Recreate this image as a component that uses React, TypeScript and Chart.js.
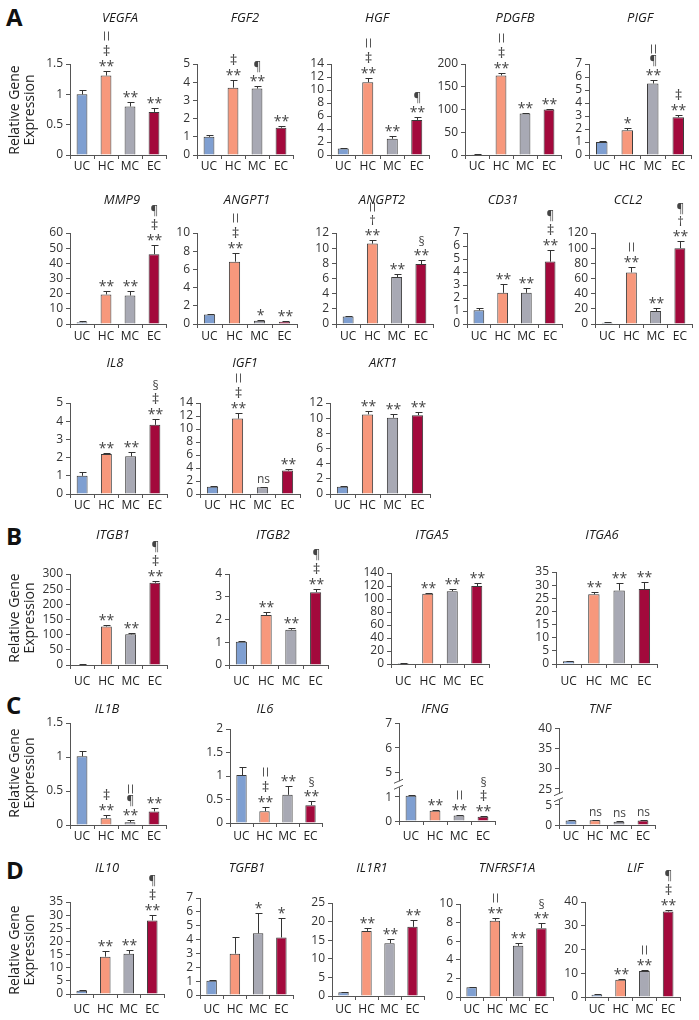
import React, { useEffect, useRef, useState } from "react";
import { Chart, registerables } from "chart.js";
Chart.register(...registerables);

const FONT = "'Open Sans', 'DejaVu Sans', sans-serif";
const groups = ["UC", "HC", "MC", "EC"];
const barColors = ["#7f9fd1", "#f7987c", "#a8a9b4", "#a3093c"];

// ---- data (mean, error, significance marks top-to-bottom) ----
const vegfaMean = [1.0, 1.31, 0.8, 0.71];
const vegfaErr = [0.07, 0.07, 0.07, 0.07];
const vegfaMarks = [[], ["||", "‡", "**"], ["**"], ["**"]];

const fgf2Mean = [1.0, 3.7, 3.65, 1.5];
const fgf2Err = [0.08, 0.4, 0.15, 0.12];
const fgf2Marks = [[], ["‡", "**"], ["¶", "**"], ["**"]];

const hgfMean = [1.0, 11.2, 2.5, 5.4];
const hgfErr = [0.1, 0.7, 0.4, 0.4];
const hgfMarks = [[], ["||", "‡", "**"], ["**"], ["¶", "**"]];

const pdgfbMean = [1.5, 175, 91, 100];
const pdgfbErr = [0.8, 5, 2, 2];
const pdgfbMarks = [[], ["||", "‡", "**"], ["**"], ["**"]];

const pigfMean = [1.0, 1.9, 5.5, 2.9];
const pigfErr = [0.05, 0.15, 0.25, 0.2];
const pigfMarks = [[], ["*"], ["||", "¶", "**"], ["‡", "**"]];

const mmp9Mean = [1.2, 19.5, 18.8, 46];
const mmp9Err = [0.5, 2.5, 3, 6];
const mmp9Marks = [[], ["**"], ["**"], ["¶", "‡", "**"]];

const angpt1Mean = [1.05, 6.85, 0.35, 0.25];
const angpt1Err = [0.05, 0.95, 0.05, 0.05];
const angpt1Marks = [[], ["||", "‡", "**"], ["*"], ["**"]];

const angpt2Mean = [1.0, 10.6, 6.2, 7.9];
const angpt2Err = [0.05, 0.5, 0.35, 0.6];
const angpt2Marks = [[], ["||", "†", "**"], ["**"], ["§", "**"]];

const cd31Mean = [1.05, 2.4, 2.4, 4.8];
const cd31Err = [0.2, 0.65, 0.35, 0.9];
const cd31Marks = [[], ["**"], ["**"], ["¶", "‡", "**"]];

const ccl2Mean = [1.5, 68, 17, 100];
const ccl2Err = [0.5, 7, 4, 10];
const ccl2Marks = [[], ["||", "**"], ["**"], ["¶", "†", "**"]];

const il8Mean = [1.0, 2.2, 2.07, 3.8];
const il8Err = [0.22, 0.04, 0.22, 0.3];
const il8Marks = [[], ["**"], ["**"], ["§", "‡", "**"]];

const igf1Mean = [1.1, 11.6, 1.05, 3.6];
const igf1Err = [0.15, 0.8, 0.1, 0.25];
const igf1Marks = [[], ["||", "‡", "**"], ["ns"], ["**"]];

const akt1Mean = [0.95, 10.5, 10.05, 10.4];
const akt1Err = [0.05, 0.5, 0.5, 0.4];
const akt1Marks = [[], ["**"], ["**"], ["**"]];

const itgb1Mean = [2, 127, 101, 271];
const itgb1Err = [1, 6, 6, 7];
const itgb1Marks = [[], ["**"], ["**"], ["¶", "‡", "**"]];

const itgb2Mean = [1.02, 2.2, 1.55, 3.2];
const itgb2Err = [0.03, 0.15, 0.07, 0.13];
const itgb2Marks = [[], ["**"], ["**"], ["¶", "‡", "**"]];

const itga5Mean = [1.5, 108, 112, 120];
const itga5Err = [0.5, 1.5, 3.5, 4];
const itga5Marks = [[], ["**"], ["**"], ["**"]];

const itga6Mean = [1, 26.5, 28, 28.5];
const itga6Err = [0.3, 1, 2.7, 2.7];
const itga6Marks = [[], ["**"], ["**"], ["**"]];

const il1bMean = [1.01, 0.1, 0.04, 0.2];
const il1bErr = [0.08, 0.04, 0.04, 0.05];
const il1bMarks = [[], ["‡", "**"], ["||", "¶", "**"], ["**"]];

const il6Mean = [1.02, 0.25, 0.6, 0.38];
const il6Err = [0.17, 0.08, 0.18, 0.09];
const il6Marks = [[], ["||", "‡", "**"], ["**"], ["§", "**"]];

// broken axis: positions on the drawn scale and the labels they carry
const ifngMean = [1.03, 0.42, 0.22, 0.17];
const ifngErr = [0.03, 0.03, 0.02, 0.03];
const ifngMarks = [[], ["**"], ["||", "**"], ["§", "‡", "**"]];
const ifngTickPos = [0, 1, 2, 3, 4];
const ifngTickLabels = ["0", "1", "5", "6", "7"];

const tnfMean = [1.1, 1.2, 0.8, 1.1];
const tnfErr = [0.1, 0.1, 0.1, 0.2];
const tnfMarks = [[], ["ns"], ["ns"], ["ns"]];
const tnfTickPos = [0, 5, 9, 14, 19, 24];
const tnfTickLabels = ["0", "5", "25", "30", "35", "40"];

const il10Mean = [1.2, 14.2, 15.3, 28];
const il10Err = [0.3, 2, 1.5, 2];
const il10Marks = [[], ["**"], ["**"], ["¶", "‡", "**"]];

const tgfb1Mean = [1.02, 2.98, 4.45, 4.15];
const tgfb1Err = [0.08, 1.2, 1.45, 1.4];
const tgfb1Marks = [[], [], ["*"], ["*"]];

const il1r1Mean = [1, 17.5, 14.2, 18.6];
const il1r1Err = [0.2, 0.7, 1.2, 1.8];
const il1r1Marks = [[], ["**"], ["**"], ["**"]];

const tnfrsf1aMean = [1.05, 8.2, 5.5, 7.4];
const tnfrsf1aErr = [0.05, 0.3, 0.3, 0.55];
const tnfrsf1aMarks = [[], ["||", "**"], ["**"], ["§", "**"]];

const lifMean = [1, 7.3, 11, 36];
const lifErr = [0.2, 0.3, 0.5, 0.8];
const lifMarks = [[], ["**"], ["||", "**"], ["¶", "‡", "**"]];

// ---- layout of panels ----
type P = {
  title: string; mean: number[]; err: number[]; marks: string[][];
  max: number; step: number; x0: number; x1: number; yT: number; y0: number; ty: number; tx: number; ly: number;
  tickPos?: number[]; tickLabels?: string[]; breakAt?: number;
};

const panels: P[] = [
  { title: "VEGFA", mean: vegfaMean, err: vegfaErr, marks: vegfaMarks, max: 1.5, step: 0.5, x0: 70, x1: 166, yT: 64, y0: 155, ty: 18, tx: 120, ly: 166 },
  { title: "FGF2", mean: fgf2Mean, err: fgf2Err, marks: fgf2Marks, max: 5, step: 1, x0: 197, x1: 293, yT: 64, y0: 155, ty: 18, tx: 245, ly: 166 },
  { title: "HGF", mean: hgfMean, err: hgfErr, marks: hgfMarks, max: 14, step: 2, x0: 331, x1: 429, yT: 64, y0: 155, ty: 18, tx: 377, ly: 166 },
  { title: "PDGFB", mean: pdgfbMean, err: pdgfbErr, marks: pdgfbMarks, max: 200, step: 50, x0: 465, x1: 561, yT: 64, y0: 155, ty: 18, tx: 515, ly: 166 },
  { title: "PIGF", mean: pigfMean, err: pigfErr, marks: pigfMarks, max: 7, step: 1, x0: 589, x1: 691, yT: 64, y0: 155, ty: 18, tx: 640, ly: 166 },

  { title: "MMP9", mean: mmp9Mean, err: mmp9Err, marks: mmp9Marks, max: 60, step: 10, x0: 70, x1: 166, yT: 233, y0: 324, ty: 200, tx: 122, ly: 337 },
  { title: "ANGPT1", mean: angpt1Mean, err: angpt1Err, marks: angpt1Marks, max: 10, step: 2, x0: 197, x1: 297, yT: 233, y0: 324, ty: 200, tx: 247, ly: 337 },
  { title: "ANGPT2", mean: angpt2Mean, err: angpt2Err, marks: angpt2Marks, max: 12, step: 2, x0: 336, x1: 433, yT: 233, y0: 324, ty: 200, tx: 382, ly: 337 },
  { title: "CD31", mean: cd31Mean, err: cd31Err, marks: cd31Marks, max: 7, step: 1, x0: 467, x1: 562, yT: 233, y0: 324, ty: 200, tx: 503, ly: 337 },
  { title: "CCL2", mean: ccl2Mean, err: ccl2Err, marks: ccl2Marks, max: 120, step: 20, x0: 595, x1: 692, yT: 233, y0: 324, ty: 200, tx: 628, ly: 337 },

  { title: "IL8", mean: il8Mean, err: il8Err, marks: il8Marks, max: 5, step: 1, x0: 70, x1: 167, yT: 403, y0: 494, ty: 363, tx: 115, ly: 505 },
  { title: "IGF1", mean: igf1Mean, err: igf1Err, marks: igf1Marks, max: 14, step: 2, x0: 200, x1: 300, yT: 403, y0: 494, ty: 363, tx: 245, ly: 505 },
  { title: "AKT1", mean: akt1Mean, err: akt1Err, marks: akt1Marks, max: 12, step: 2, x0: 330, x1: 430, yT: 403, y0: 494, ty: 363, tx: 383, ly: 505 },

  { title: "ITGB1", mean: itgb1Mean, err: itgb1Err, marks: itgb1Marks, max: 300, step: 50, x0: 70, x1: 167, yT: 574, y0: 665, ty: 535, tx: 113, ly: 682 },
  { title: "ITGB2", mean: itgb2Mean, err: itgb2Err, marks: itgb2Marks, max: 4, step: 1, x0: 229, x1: 328, yT: 574, y0: 665, ty: 535, tx: 273, ly: 682 },
  { title: "ITGA5", mean: itga5Mean, err: itga5Err, marks: itga5Marks, max: 140, step: 20, x0: 391, x1: 489, yT: 573, y0: 664, ty: 535, tx: 432, ly: 682 },
  { title: "ITGA6", mean: itga6Mean, err: itga6Err, marks: itga6Marks, max: 35, step: 5, x0: 556, x1: 657, yT: 572, y0: 664, ty: 535, tx: 602, ly: 682 },

  { title: "IL1B", mean: il1bMean, err: il1bErr, marks: il1bMarks, max: 1.5, step: 0.5, x0: 70, x1: 166, yT: 723, y0: 825, ty: 709, tx: 107, ly: 837 },
  { title: "IL6", mean: il6Mean, err: il6Err, marks: il6Marks, max: 2, step: 0.5, x0: 230, x1: 322, yT: 729, y0: 823, ty: 709, tx: 265, ly: 837 },
  { title: "IFNG", mean: ifngMean, err: ifngErr, marks: ifngMarks, max: 4, step: 1, x0: 399, x1: 495, yT: 723, y0: 821, ty: 709, tx: 435, ly: 837, tickPos: ifngTickPos, tickLabels: ifngTickLabels, breakAt: 1.5 },
  { title: "TNF", mean: tnfMean, err: tnfErr, marks: tnfMarks, max: 24, step: 1, x0: 559, x1: 655, yT: 728, y0: 825, ty: 709, tx: 600, ly: 837, tickPos: tnfTickPos, tickLabels: tnfTickLabels, breakAt: 7 },

  { title: "IL10", mean: il10Mean, err: il10Err, marks: il10Marks, max: 35, step: 5, x0: 70, x1: 164, yT: 902, y0: 994, ty: 868, tx: 107, ly: 1010 },
  { title: "TGFB1", mean: tgfb1Mean, err: tgfb1Err, marks: tgfb1Marks, max: 7, step: 1, x0: 200, x1: 293, yT: 898, y0: 995, ty: 868, tx: 247, ly: 1010 },
  { title: "IL1R1", mean: il1r1Mean, err: il1r1Err, marks: il1r1Marks, max: 25, step: 5, x0: 332, x1: 424, yT: 903, y0: 996, ty: 868, tx: 372, ly: 1010 },
  { title: "TNFRSF1A", mean: tnfrsf1aMean, err: tnfrsf1aErr, marks: tnfrsf1aMarks, max: 10, step: 2, x0: 460, x1: 553, yT: 904, y0: 997, ty: 868, tx: 507, ly: 1010 },
  { title: "LIF", mean: lifMean, err: lifErr, marks: lifMarks, max: 40, step: 10, x0: 585, x1: 680, yT: 902, y0: 997, ty: 868, tx: 635, ly: 1010 },
];

const YW = 36;
const AXIS = "#555";
const MARK_H: Record<string, number> = { "**": 12, "*": 12, "‡": 15, "||": 13, "¶": 11, "§": 12, "†": 13, ns: 13 };
const MARK_FONT: Record<string, string> = { "**": `14px ${FONT}`, "*": `14px ${FONT}`, "‡": `15px ${FONT}`, "¶": `12px ${FONT}`, "§": `12px ${FONT}`, "†": `13px ${FONT}`, ns: `12px ${FONT}` };

type TickLab = { x: number; y: number; t: string };

function Panel({ p }: { p: P }) {
  const ref = useRef<HTMLCanvasElement | null>(null);
  const [labs, setLabs] = useState<TickLab[]>([]);
  const left = p.x0 - YW;
  const top = p.ty - 10;
  const W = p.x1 - p.x0 + YW + 8;
  const H = p.ly + 10 - top;
  const broken = !!p.tickPos;

  useEffect(() => {
    if (!ref.current) return;
    const overlay = {
      id: "overlay",
      afterDraw(chart: any) {
        const ctx = chart.ctx;
        const ys = chart.scales.y;
        const xs = chart.scales.x;
        const ca = chart.chartArea;
        ctx.save();
        // title
        ctx.fillStyle = "#1a1a1a";
        ctx.font = `italic 13px ${FONT}`;
        ctx.textAlign = "center";
        ctx.textBaseline = "middle";
        ctx.fillText(p.title, p.tx - left, p.ty - top);
        // error bars
        ctx.lineWidth = 1;
        p.mean.forEach((m, i) => {
          const x = Math.round(xs.getPixelForValue(i)) + 0.5;
          const yb = ys.getPixelForValue(m);
          const yt = Math.round(ys.getPixelForValue(m + p.err[i])) + 0.5;
          ctx.strokeStyle = "#333";
          ctx.beginPath();
          ctx.moveTo(x, yb);
          ctx.lineTo(x, yt);
          ctx.moveTo(x - 3, yt);
          ctx.lineTo(x + 4, yt);
          ctx.stroke();
          // marks, stacked from the bottom up
          const mk = p.marks[i].slice().reverse();
          let cursor = yt - 2;
          mk.forEach((s) => {
            const h = MARK_H[s] || 12;
            const cy = cursor - h / 2;
            cursor -= h;
            if (s === "||") {
              ctx.strokeStyle = "#555";
              ctx.beginPath();
              ctx.moveTo(x - 2, cy - 4.5);
              ctx.lineTo(x - 2, cy + 4.5);
              ctx.moveTo(x + 2, cy - 4.5);
              ctx.lineTo(x + 2, cy + 4.5);
              ctx.stroke();
              return;
            }
            ctx.fillStyle = "#444";
            ctx.font = MARK_FONT[s] || `13px ${FONT}`;
            ctx.textAlign = "center";
            ctx.textBaseline = "alphabetic";
            const mt = ctx.measureText(s);
            const asc = mt.actualBoundingBoxAscent || 8;
            const desc = mt.actualBoundingBoxDescent || 0;
            ctx.fillText(s, x, cy + (asc - desc) / 2);
          });
        });
        // axis break
        if (p.breakAt !== undefined) {
          const y = ys.getPixelForValue(p.breakAt);
          const x = ca.left;
          ctx.fillStyle = "#fff";
          ctx.fillRect(x - 2, y - 3, 4, 6);
          ctx.strokeStyle = AXIS;
          ctx.beginPath();
          [-3, 3].forEach((d) => {
            ctx.moveTo(x - 5, y + d + 2);
            ctx.lineTo(x + 4, y + d - 2);
          });
          ctx.stroke();
        }
        ctx.restore();
      },
    };

    const chart = new Chart(ref.current, {
      type: "bar",
      data: {
        labels: groups,
        datasets: [
          {
            data: p.mean,
            backgroundColor: barColors,
            borderColor: "#3a3a3a",
            borderWidth: 1,
            barPercentage: 0.45,
            categoryPercentage: 1,
          },
        ],
      },
      options: {
        responsive: false,
        animation: false,
        devicePixelRatio: 1,
        layout: { padding: { top: p.yT - top, right: 8, left: 0, bottom: 0 } },
        plugins: { legend: { display: false }, tooltip: { enabled: false }, title: { display: false } },
        scales: {
          x: {
            grid: { drawOnChartArea: false, drawTicks: true, tickLength: 4, color: AXIS, offset: true },
            border: { display: true, color: AXIS, width: 1 },
            ticks: {
              color: "#222",
              font: { family: FONT, size: 12 },
              padding: Math.max(0, p.ly - p.y0 - 4 - 8),
              maxRotation: 0,
              autoSkip: false,
            },
            afterFit: (s: any) => {
              s.height = H - (p.y0 - top);
            },
          },
          y: {
            min: 0,
            max: p.max,
            grid: { drawOnChartArea: false, drawTicks: true, tickLength: 4, color: AXIS },
            border: { display: true, color: AXIS, width: 1 },
            ticks: {
              stepSize: p.step,
              autoSkip: false,
              color: broken ? "rgba(0,0,0,0)" : "#333",
              font: { family: FONT, size: 12 },
              padding: 3,
              callback: (v: any) => String(Math.round(Number(v) * 100) / 100),
            },
            afterBuildTicks: (s: any) => {
              if (p.tickPos) s.ticks = p.tickPos.map((v) => ({ value: v }));
            },
            afterFit: (s: any) => {
              s.width = YW;
            },
          },
        },
      } as any,
      plugins: [overlay],
    });
    // broken-axis tick labels placed from the chart's own y scale
    if (p.tickPos && p.tickLabels) {
      const ys: any = chart.scales.y;
      const ca = chart.chartArea;
      setLabs(
        p.tickPos.map((v, k) => ({
          x: left + ca.left - 7,
          y: top + ys.getPixelForValue(v),
          t: p.tickLabels![k],
        }))
      );
    }
    return () => chart.destroy();
  }, []);

  return (
    <>
      <canvas
        ref={ref}
        width={W}
        height={H}
        style={{ position: "absolute", left, top, width: W, height: H, zIndex: 1 }}
      />
      {labs.map((l, i) => (
        <div
          key={i}
          style={{
            position: "absolute",
            left: l.x - 30,
            top: l.y - 8,
            width: 30,
            height: 16,
            lineHeight: "16px",
            fontSize: 12,
            fontFamily: FONT,
            textAlign: "right",
            color: "#333",
            zIndex: 10,
          }}
        >
          {l.t}
        </div>
      ))}
    </>
  );
}

const letters = [
  { t: "A", y: 4 },
  { t: "B", y: 523 },
  { t: "C", y: 692 },
  { t: "D", y: 857 },
];
const yLabels = [110, 618, 773, 950];

export default function App() {
  return (
    <div style={{ position: "absolute", left: 0, top: 0, width: 699, height: 1020, background: "#fff", fontFamily: FONT }}>
      {panels.map((p) => (
        <Panel key={p.title} p={p} />
      ))}
      {letters.map((l) => (
        <div key={l.t} style={{ position: "absolute", left: 6, top: l.y, fontSize: 24, fontWeight: 700, lineHeight: "26px", color: "#111", zIndex: 2 }}>
          {l.t}
        </div>
      ))}
      {yLabels.map((cy, i) => (
        <div
          key={i}
          style={{
            position: "absolute",
            left: 21,
            top: cy,
            width: 120,
            fontSize: 14,
            lineHeight: "15px",
            textAlign: "center",
            color: "#222",
            zIndex: 2,
            transform: "translate(-50%, -50%) rotate(-90deg)",
          }}
        >
          Relative Gene
          <br />
          Expression
        </div>
      ))}
    </div>
  );
}
